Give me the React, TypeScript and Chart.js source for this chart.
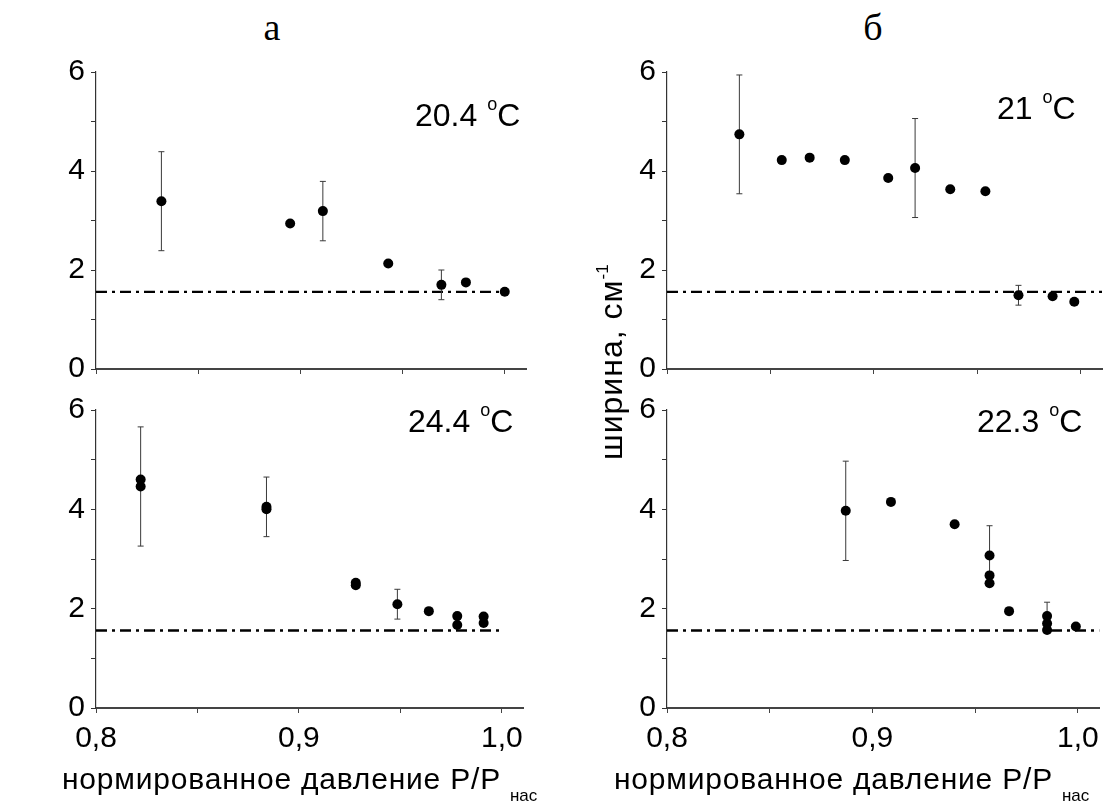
import React, { useEffect, useRef } from 'react';
import { Chart, registerables } from 'chart.js';

Chart.register(...registerables);

const SANS = "'Liberation Sans', Arial, sans-serif";
const SERIF = "'Liberation Serif', 'Times New Roman', serif";

// axis ranges and ticks
const xMin = 0.8;
const xMax = 1.0104;
const yMin = 0;
const yMax = 6;
const xTickStep = 0.05;
const yTickStep = 1;
const xLabeledValues = [0.8, 0.9, 1.0];
const xTickLabels = ['0,8', '0,9', '1,0'];
const yLabeledValues = [0, 2, 4, 6];
const yTickLabels = ['0', '2', '4', '6'];

// dash-dot reference level
const baselineY = 1.56;

// panel а, top: 20.4 °C
const a1X = [0.832, 0.895, 0.911, 0.943, 0.969, 0.981, 1.0];
const a1Y = [3.39, 2.94, 3.19, 2.13, 1.7, 1.75, 1.56];
const a1ErrX = [0.832, 0.911, 0.969];
const a1ErrY = [3.39, 3.19, 1.7];
const a1Err = [1.0, 0.6, 0.3];

// panel а, bottom: 24.4 °C
const a2X = [0.822, 0.822, 0.884, 0.884, 0.928, 0.928, 0.9485, 0.964, 0.978, 0.978, 0.991, 0.991];
const a2Y = [4.6, 4.46, 4.05, 4.0, 2.52, 2.47, 2.09, 1.95, 1.85, 1.67, 1.84, 1.71];
const a2ErrX = [0.822, 0.884, 0.9485];
const a2ErrY = [4.46, 4.05, 2.09];
const a2Err = [1.2, 0.6, 0.3];

// panel б, top: 21 °C
const b1X = [0.835, 0.8555, 0.869, 0.886, 0.907, 0.92, 0.937, 0.954, 0.97, 0.9865, 0.997];
const b1Y = [4.74, 4.22, 4.27, 4.22, 3.86, 4.06, 3.63, 3.59, 1.49, 1.47, 1.36];
const b1ErrX = [0.835, 0.92, 0.97];
const b1ErrY = [4.74, 4.06, 1.49];
const b1Err = [1.2, 1.0, 0.2];

// panel б, bottom: 22.3 °C
const b2X = [0.887, 0.909, 0.94, 0.957, 0.957, 0.957, 0.9665, 0.985, 0.985, 0.985, 0.999];
const b2Y = [3.97, 4.15, 3.7, 3.07, 2.67, 2.51, 1.95, 1.85, 1.7, 1.57, 1.64];
const b2ErrX = [0.887, 0.957, 0.985];
const b2ErrY = [3.97, 3.07, 1.85];
const b2Err = [1.0, 0.6, 0.28];

type PanelProps = {
  xs: number[];
  ys: number[];
  ex: number[];
  ey: number[];
  ee: number[];
  lineEnd: number;
  showXLabels: boolean;
  left: number; // chart area left
  right: number;
  top: number;
  bottom: number;
};

const Y_AXIS_W = 60;
const PAD_TOP = 20;
const PAD_RIGHT = 3;

function labelFor(v: number, values: number[], labels: string[]) {
  for (let i = 0; i < values.length; i++) {
    if (Math.abs(v - values[i]) < 1e-6) return labels[i];
  }
  return '';
}

function Panel(p: PanelProps) {
  const ref = useRef<HTMLCanvasElement | null>(null);
  const xAxisH = p.showXLabels ? 70 : 25;
  const cLeft = p.left - Y_AXIS_W;
  const cTop = p.top - PAD_TOP;
  const cW = p.right + PAD_RIGHT - cLeft;
  const cH = p.bottom + xAxisH - cTop;

  useEffect(() => {
    if (!ref.current) return;
    const errSets = p.ex.map((x, i) => ({
      type: 'line' as const,
      data: [
        { x, y: p.ey[i] - p.ee[i] },
        { x, y: p.ey[i] + p.ee[i] },
      ],
      showLine: true,
      borderColor: '#3a3a3a',
      borderWidth: 1,
      pointStyle: 'line' as const,
      pointRadius: 3,
      pointBorderWidth: 1,
      pointBorderColor: '#3a3a3a',
      pointBackgroundColor: '#3a3a3a',
      fill: false,
      clip: false as any,
      order: 2,
    }));
    const chart = new Chart(ref.current, {
      type: 'scatter',
      data: {
        datasets: [
          {
            type: 'line',
            data: [
              { x: xMin, y: baselineY },
              { x: p.lineEnd, y: baselineY },
            ],
            showLine: true,
            borderColor: '#000',
            borderWidth: 2.3,
            borderDash: [11, 5, 3, 5],
            pointRadius: 0,
            fill: false,
            clip: false as any,
            order: 3,
          } as any,
          ...(errSets as any[]),
          {
            type: 'scatter',
            data: p.xs.map((x, i) => ({ x, y: p.ys[i] })),
            pointRadius: 5,
            pointBackgroundColor: '#000',
            pointBorderColor: '#000',
            pointBorderWidth: 0,
            clip: false as any,
            order: 1,
          } as any,
        ],
      },
      options: {
        animation: false,
        responsive: false,
        devicePixelRatio: 1,
        events: [],
        layout: { padding: { left: 0, right: PAD_RIGHT, top: PAD_TOP, bottom: 0 } },
        plugins: { legend: { display: false }, tooltip: { enabled: false }, title: { display: false } },
        scales: {
          x: {
            type: 'linear',
            position: 'bottom',
            min: xMin,
            max: xMax,
            border: { display: true, color: '#444', width: 2 },
            grid: { display: true, drawOnChartArea: false, drawTicks: true, tickLength: 5, tickColor: '#444', tickWidth: 1 },
            ticks: {
              stepSize: xTickStep,
              includeBounds: false,
              autoSkip: false,
              maxRotation: 0,
              minRotation: 0,
              padding: 8,
              color: '#000',
              font: { family: SANS, size: 30 },
              callback: (v: any) => (p.showXLabels ? labelFor(Number(v), xLabeledValues, xTickLabels) : ''),
            },
            afterFit: (s: any) => {
              s.height = xAxisH;
            },
          },
          y: {
            type: 'linear',
            position: 'left',
            min: yMin,
            max: yMax,
            border: { display: true, color: '#333', width: 1.2 },
            grid: { display: true, drawOnChartArea: false, drawTicks: true, tickLength: 5, tickColor: '#333', tickWidth: 1 },
            ticks: {
              stepSize: yTickStep,
              autoSkip: false,
              padding: 6,
              color: '#000',
              font: { family: SANS, size: 30 },
              callback: (v: any) => labelFor(Number(v), yLabeledValues, yTickLabels),
            },
            afterFit: (s: any) => {
              s.width = Y_AXIS_W;
            },
          },
        },
      } as any,
    });
    return () => chart.destroy();
  }, []);

  return (
    <canvas
      ref={ref}
      width={cW}
      height={cH}
      style={{ position: 'absolute', left: cLeft, top: cTop, width: cW, height: cH }}
    />
  );
}

function TempLabel({ left, top, text }: { left: number; top: number; text: string }) {
  return (
    <div
      style={{
        position: 'absolute',
        left,
        top,
        font: `32px ${SANS}`,
        lineHeight: '32px',
        whiteSpace: 'nowrap',
        color: '#000',
      }}
    >
      {text}
      <span style={{ fontSize: 18, position: 'relative', top: -16, marginLeft: 10 }}>o</span>
      <span>C</span>
    </div>
  );
}

function XTitle({ left }: { left: number }) {
  return (
    <div
      style={{
        position: 'absolute',
        left,
        top: 764,
        font: `30px ${SANS}`,
        lineHeight: '30px',
        letterSpacing: '0.8px',
        whiteSpace: 'nowrap',
        color: '#000',
      }}
    >
      нормированное давление P/P
      <span style={{ fontSize: 17, letterSpacing: 0, position: 'relative', top: 12, marginLeft: 9 }}>нас</span>
    </div>
  );
}

export default function App() {
  const leftL = 96;
  const leftR = 528;
  const rightL = 667;
  const rightR = 1104;
  const topT = 68;
  const topB = 369;
  const botT = 406;
  const botB = 708;
  return (
    <div
      style={{
        position: 'absolute',
        left: 0,
        top: 0,
        width: 1107,
        height: 804,
        overflow: 'hidden',
        background: '#fff',
      }}
    >
      <Panel xs={a1X} ys={a1Y} ex={a1ErrX} ey={a1ErrY} ee={a1Err} lineEnd={1.0} showXLabels={false}
        left={leftL} right={leftR} top={topT} bottom={topB} />
      <Panel xs={a2X} ys={a2Y} ex={a2ErrX} ey={a2ErrY} ee={a2Err} lineEnd={1.0} showXLabels={true}
        left={leftL} right={leftR} top={botT} bottom={botB} />
      <Panel xs={b1X} ys={b1Y} ex={b1ErrX} ey={b1ErrY} ee={b1Err} lineEnd={xMax} showXLabels={false}
        left={rightL} right={rightR} top={topT} bottom={topB} />
      <Panel xs={b2X} ys={b2Y} ex={b2ErrX} ey={b2ErrY} ee={b2Err} lineEnd={xMax} showXLabels={true}
        left={rightL} right={rightR} top={botT} bottom={botB} />

      <div style={{ position: 'absolute', left: 272, top: 8, transform: 'translateX(-50%)', font: `38px ${SERIF}`, lineHeight: '38px' }}>а</div>
      <div style={{ position: 'absolute', left: 873, top: 8, transform: 'translateX(-50%)', font: `38px ${SERIF}`, lineHeight: '38px' }}>б</div>

      <TempLabel left={415} top={99} text="20.4" />
      <TempLabel left={408} top={405} text="24.4" />
      <TempLabel left={997} top={92} text="21" />
      <TempLabel left={977} top={405} text="22.3" />

      <XTitle left={62} />
      <XTitle left={614} />

      <div
        style={{
          position: 'absolute',
          left: 595,
          top: 460,
          transformOrigin: '0 0',
          transform: 'rotate(-90deg)',
          font: `32px ${SANS}`,
          lineHeight: '32px',
          letterSpacing: '1px',
          whiteSpace: 'nowrap',
          color: '#000',
        }}
      >
        ширина, см
        <span style={{ fontSize: 17, letterSpacing: 0, position: 'relative', top: -14, marginLeft: 0 }}>-1</span>
      </div>
    </div>
  );
}
